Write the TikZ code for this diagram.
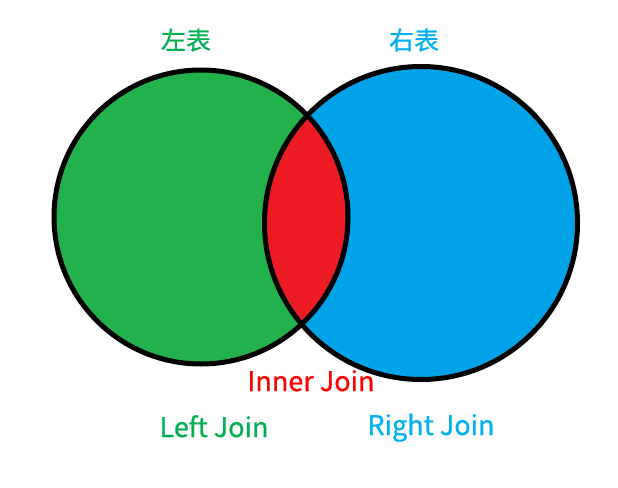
\documentclass[tikz,border=0pt]{standalone}
\usepackage{fontspec}
\usepackage{xcolor}
\usepackage{tikz}
\usetikzlibrary{positioning}
\newfontfamily\cjk{Noto Sans CJK SC}[FakeBold=0.7]

\definecolor{paintgreen}{HTML}{22B14C}
\definecolor{paintblue}{HTML}{00A2E8}
\definecolor{paintred}{HTML}{ED1C24}
\definecolor{textgreen}{HTML}{00B050}
\definecolor{textblue}{HTML}{00B0F0}
\definecolor{textred}{HTML}{FF0000}

\tikzset{
  ring/.style={draw=black, line width=5pt},
  joinlabel/.style={font=\cjk\fontsize{27}{30}\selectfont, inner sep=0pt, anchor=base},
  tablelabel/.style={font=\cjk\fontsize{25}{28}\selectfont, inner sep=0pt}
}

\begin{document}
\begin{tikzpicture}[x=1pt, y=-1pt]
        \useasboundingbox (0,0) rectangle (618,487);
        \coordinate (lc) at (201,217);
        \coordinate (rc) at (421,223);

        \fill[paintgreen] (lc) circle (147);
        \fill[paintblue] (rc) circle (156.5);
        \begin{scope}
            \clip (lc) circle (147);
            \fill[paintred] (rc) circle (156.5);
        \end{scope}
        \draw[ring] (lc) circle (147);
        \draw[ring] (rc) circle (156.5);

        \node[tablelabel, text=textgreen] (lefttable) at (186,40) {左表};
        \node[tablelabel, text=textblue] (righttable) at (414,40) {右表};

        \node[joinlabel, text=textred] (innerjoin) at (311,391) {Inner Join};
        \node[joinlabel, text=textgreen] (leftjoin) at (214,437) {Left Join};
        \node[joinlabel, text=textblue] (rightjoin) at (431,435) {Right Join};
\end{tikzpicture}
\end{document}
